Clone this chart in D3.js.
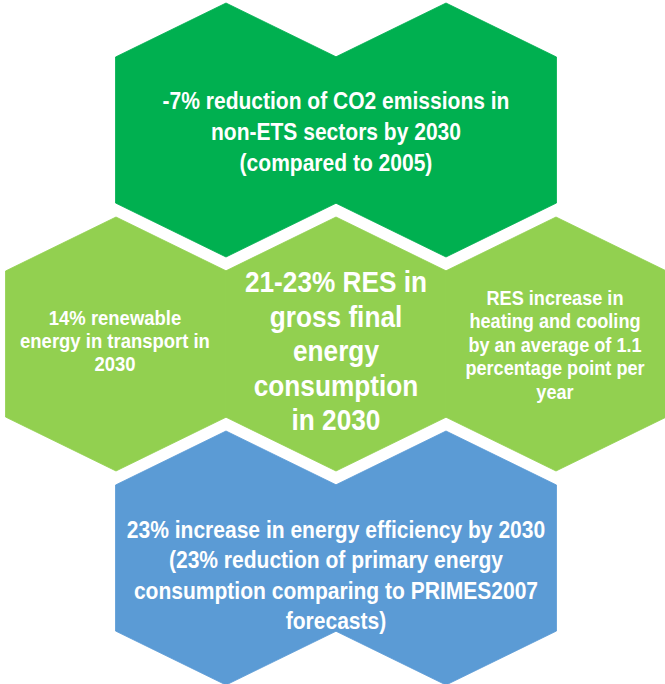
<!DOCTYPE html>
<html>
<head>
<meta charset="utf-8">
<script src="https://cdn.jsdelivr.net/npm/d3@7"></script>
<style>
  html, body { margin: 0; padding: 0; background: #fff; }
  svg { display: block; }
  .hex-label { fill: #fff; font-family: "Liberation Sans", Arial, sans-serif; font-weight: bold; text-anchor: middle; }
</style>
</head>
<body>
<div class="hex-container"></div>
<script>
// Data -------------------------------------------------------------------------------------------------------
const groups = ["emissions", "renewables", "efficiency"];
const groupColors = ["#00B050", "#92D050", "#5B9BD5"];

// honeycomb cells: row and column (in half-hexagon steps)
const cellRows = [0, 0, 1, 1, 1, 2, 2];
const cellCols = [1, 3, 0, 2, 4, 1, 3];
const cellGroups = ["emissions", "emissions", "renewables", "renewables", "renewables", "efficiency", "efficiency"];

const labelTexts = [
  ["-7% reduction of CO2 emissions in", "non-ETS sectors by 2030", "(compared to 2005)"],
  ["21-23% RES in", "gross final", "energy", "consumption", "in 2030"],
  ["14% renewable", "energy in transport in", "2030"],
  ["RES increase in", "heating and cooling", "by an average of 1.1", "percentage point per", "year"],
  ["23% increase in energy efficiency by 2030", "(23% reduction of primary energy", "consumption comparing to PRIMES2007", "forecasts)"]
];
const labelRows = [0, 1, 1, 1, 2];
const labelCols = [2, 2, 0, 4, 2];

// Dimensions -------------------------------------------------------------------------------------------------
const width = 665, height = 684;
const hexHalfW = 110.5, hexTip = 127, hexShoulder = 73;
const narrow = 0.88; // condensed look from Liberation Sans

const svg = d3.select(".hex-container").append("svg")
  .attr("width", width)
  .attr("height", height);

const g = svg.append("g");

// Scales -----------------------------------------------------------------------------------------------------
const x = d3.scaleLinear().domain([0, 4]).range([116, 556]);
const y = d3.scaleLinear().domain([0, 2]).range([130, 558]);
const color = d3.scaleOrdinal().domain(groups).range(groupColors);

// Hexagons ---------------------------------------------------------------------------------------------------
const hexPath = (cx, cy) => d3.line()([
  [cx, cy - hexTip],
  [cx + hexHalfW, cy - hexShoulder],
  [cx + hexHalfW, cy + hexShoulder],
  [cx, cy + hexTip],
  [cx - hexHalfW, cy + hexShoulder],
  [cx - hexHalfW, cy - hexShoulder]
]) + "Z";

const cells = cellRows.map((r, i) => ({row: r, col: cellCols[i], group: cellGroups[i]}));

g.selectAll(".hex")
  .data(cells)
  .enter()
  .append("path")
  .attr("class", "hex")
  .attr("d", d => hexPath(x(d.col), y(d.row)))
  .attr("fill", d => color(d.group))
  .attr("stroke", d => color(d.group))
  .attr("stroke-width", 0.8);

// Labels -----------------------------------------------------------------------------------------------------
const labelStyle = [
  {size: 23.9, lh: 31, dx: 0, dy: 1.5},
  {size: 29.8, lh: 34.5, dx: 0, dy: 7},
  {size: 21, lh: 23, dx: -1, dy: -3.5},
  {size: 20.6, lh: 23.5, dx: -1, dy: 0.5},
  {size: 23.9, lh: 30.5, dx: 0, dy: 17}
];

const labels = labelTexts.map((lines, i) => ({lines, row: labelRows[i], col: labelCols[i], style: labelStyle[i]}));

labels.forEach(d => {
  const cx = x(d.col) + d.style.dx;
  const cy = y(d.row) + d.style.dy;
  const n = d.lines.length;
  const t = g.append("text")
    .attr("class", "hex-label")
    .attr("font-size", d.style.size)
    .attr("transform", `scale(${narrow},1)`);
  d.lines.forEach((line, j) => {
    t.append("tspan")
      .attr("x", cx / narrow)
      .attr("y", cy + (j - (n - 1) / 2) * d.style.lh)
      .attr("dy", "0.35em")
      .text(line);
  });
});
</script>
</body>
</html>
